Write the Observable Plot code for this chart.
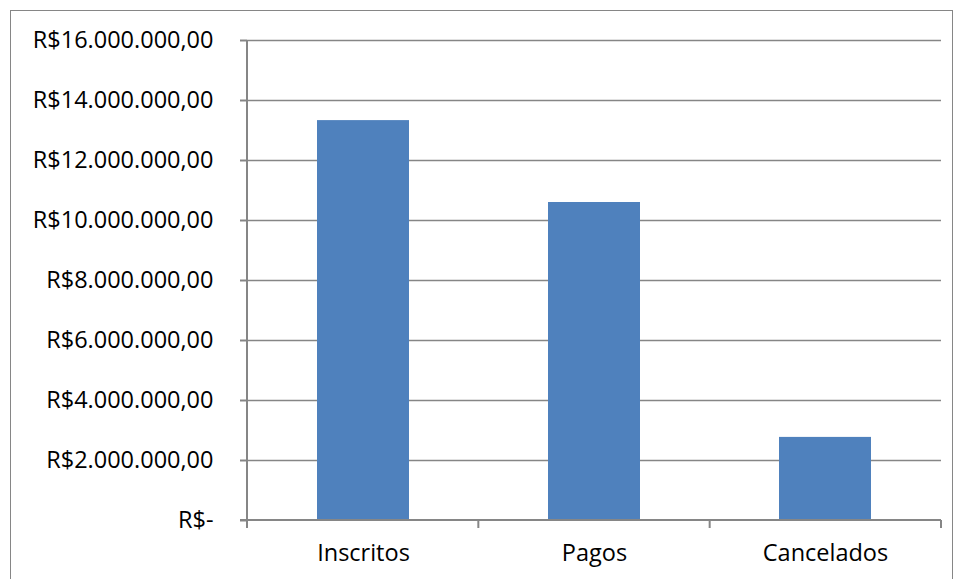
<!DOCTYPE html>
<html><head><meta charset="utf-8">
<script src="https://cdn.jsdelivr.net/npm/d3@7"></script>
<script src="https://cdn.jsdelivr.net/npm/@observablehq/plot@0.6"></script>
<style>
body{margin:0;background:#fff;}
#wrap{position:relative;width:957px;height:579px;overflow:hidden;}
#frame{position:absolute;left:10px;top:10px;width:943px;height:600px;border:1.5px solid #868686;box-sizing:border-box;}
#chart{position:absolute;left:0;top:0;}
</style></head>
<body>
<div id="wrap"><div id="frame"></div><div id="chart"></div></div>
<script>
const categories = ["Inscritos", "Pagos", "Cancelados"];
const values = [13330000, 10600000, 2770000];
const yTicks = [0, 2000000, 4000000, 6000000, 8000000, 10000000, 12000000, 14000000, 16000000];

const data = categories.map((c, i) => ({cat: c, val: values[i]}));
const fmt = v => v === 0 ? "R$-" : "R$" + d3.format(",.2f")(v).replace(/,/g, "#").replace(".", ",").replace(/#/g, ".");
const gray = "#868686";

function catTicks(index, scales, vals, dims) {
  const g = d3.create("svg:g");
  const n = categories.length;
  const x0 = dims.marginLeft, x1 = dims.width - dims.marginRight;
  const y = dims.height - dims.marginBottom;
  for (let i = 0; i <= n; i++) {
    const x = x0 + i * (x1 - x0) / n;
    g.append("line").attr("x1", x).attr("x2", x).attr("y1", y).attr("y2", y + 8)
      .attr("stroke", gray).attr("stroke-width", 2);
  }
  g.append("line").attr("x1", x0 - 7).attr("x2", x1).attr("y1", y).attr("y2", y)
    .attr("stroke", gray).attr("stroke-width", 2);
  g.append("line").attr("x1", x0).attr("x2", x0).attr("y1", dims.marginTop).attr("y2", y + 8)
    .attr("stroke", gray).attr("stroke-width", 2);
  return g.node();
}

const plot = Plot.plot({
  width: 957,
  height: 579,
  marginLeft: 247,
  marginRight: 16,
  marginTop: 40,
  marginBottom: 59,
  style: {fontFamily: "'Open Sans', sans-serif", fontSize: "23.5px", color: "#000", background: "transparent"},
  x: {domain: categories, paddingInner: 0.602, paddingOuter: 0.301, label: null},
  y: {domain: [0, 16000000], label: null},
  marks: [
    Plot.ruleY(yTicks.filter(d => d > 0), {stroke: gray, strokeWidth: 1.5, strokeOpacity: 1}),
    Plot.barY(data, {x: "cat", y: "val", fill: "#4F81BD"}),
    Plot.axisY({ticks: yTicks, tickFormat: fmt, tickSize: 7, tickPadding: 27, stroke: gray, strokeWidth: 2, strokeOpacity: 1, fontSize: 23.5, fill: "#000"}),
    Plot.axisX({tickSize: 0, tickPadding: 24, fontSize: 23.5, fill: "#000"}),
    catTicks
  ]
});
document.getElementById("chart").appendChild(plot);
</script>
</body></html>
